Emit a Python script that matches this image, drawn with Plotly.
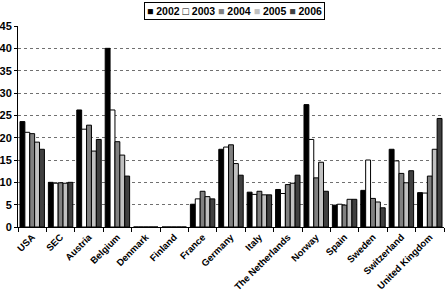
import plotly.graph_objects as go

countries = ["USA", "SEC", "Austria", "Belgium", "Denmark", "Finland", "France",
             "Germany", "Italy", "The Netherlands", "Norway", "Spain", "Sweden",
             "Switzerland", "United Kingdom"]
years = ["2002", "2003", "2004", "2005", "2006"]

v2002 = [23.6, 10.0, 26.2, 40.0, 0, 0, 5.1, 17.4, 7.8, 8.4, 27.4, 4.9, 8.2, 17.4, 7.7]
v2003 = [21.2, 9.8, 21.9, 26.2, 0, 0, 6.3, 17.9, 7.3, 7.5, 19.6, 5.1, 15.0, 14.8, 7.6]
v2004 = [20.9, 9.9, 22.8, 19.1, 0, 0, 8.0, 18.4, 8.0, 9.5, 11.0, 4.9, 6.4, 12.0, 11.4]
v2005 = [19.0, 9.8, 17.0, 16.1, 0, 0, 6.8, 14.2, 7.2, 9.8, 14.5, 6.2, 5.6, 9.9, 17.4]
v2006 = [17.4, 10.0, 19.6, 11.4, 0, 0, 6.3, 11.6, 7.2, 11.6, 8.0, 6.2, 4.3, 12.6, 24.3]

series = [v2002, v2003, v2004, v2005, v2006]
colors = ["#000000", "#ffffff", "#808080", "#c0c0c0", "#404040"]
legend_glyphs = ["■", "□", "■", "■", "■"]

font_family = "Liberation Sans, Arial, sans-serif"

fig = go.Figure()
for name, vals, col in zip(years, series, colors):
    fig.add_trace(go.Bar(
        x=countries, y=vals, name=name, showlegend=False,
        marker=dict(color=col, line=dict(color="#000000", width=1)),
    ))

# compact legend as a bordered text annotation
legend_text = "&nbsp;".join(
    f"<span style='color:{'#000000' if c == '#ffffff' else c}'>{g}</span>&nbsp;{y}"
    for y, c, g in zip(years, colors, legend_glyphs)
)
fig.add_annotation(
    text=legend_text, xref="paper", yref="paper", x=0.508, y=1.0,
    xanchor="center", yanchor="bottom", yshift=6, showarrow=False,
    bordercolor="#000000", borderwidth=1, borderpad=2, bgcolor="white",
    font=dict(family=font_family, size=10.5, color="#000000", weight="bold"),
)

fig.update_layout(
    width=448, height=291,
    margin=dict(l=18, r=4, t=26, b=64),
    paper_bgcolor="white", plot_bgcolor="white",
    barmode="group", bargap=0.14, bargroupgap=0,
    font=dict(family=font_family, size=10, color="#000000", weight="bold"),
    xaxis=dict(
        type="category", tickangle=-45, showline=True, linecolor="#000000",
        linewidth=1, ticks="outside", tickson="boundaries", ticklen=4,
        tickcolor="#000000", showgrid=False, automargin=False,
        tickfont=dict(family=font_family, size=9.5, weight="bold"),
    ),
    yaxis=dict(
        range=[0, 45], tickvals=[0, 5, 10, 15, 20, 25, 30, 35, 40, 45],
        showline=True, linecolor="#000000", linewidth=1, ticks="outside",
        ticklen=3, tickcolor="#000000", showgrid=False, zeroline=False,
        automargin=False,
        tickfont=dict(family=font_family, size=11, weight="bold"),
        minor=dict(tickvals=[5, 10, 15, 20, 25, 30, 35, 40], showgrid=True,
                   gridcolor="#707070", griddash="dot", gridwidth=1, ticks=""),
    ),
)

fig.write_html(
    "out.html",
    config={"displayModeBar": False},
    post_script="document.body.style.margin='0';document.body.style.padding='0';",
)
